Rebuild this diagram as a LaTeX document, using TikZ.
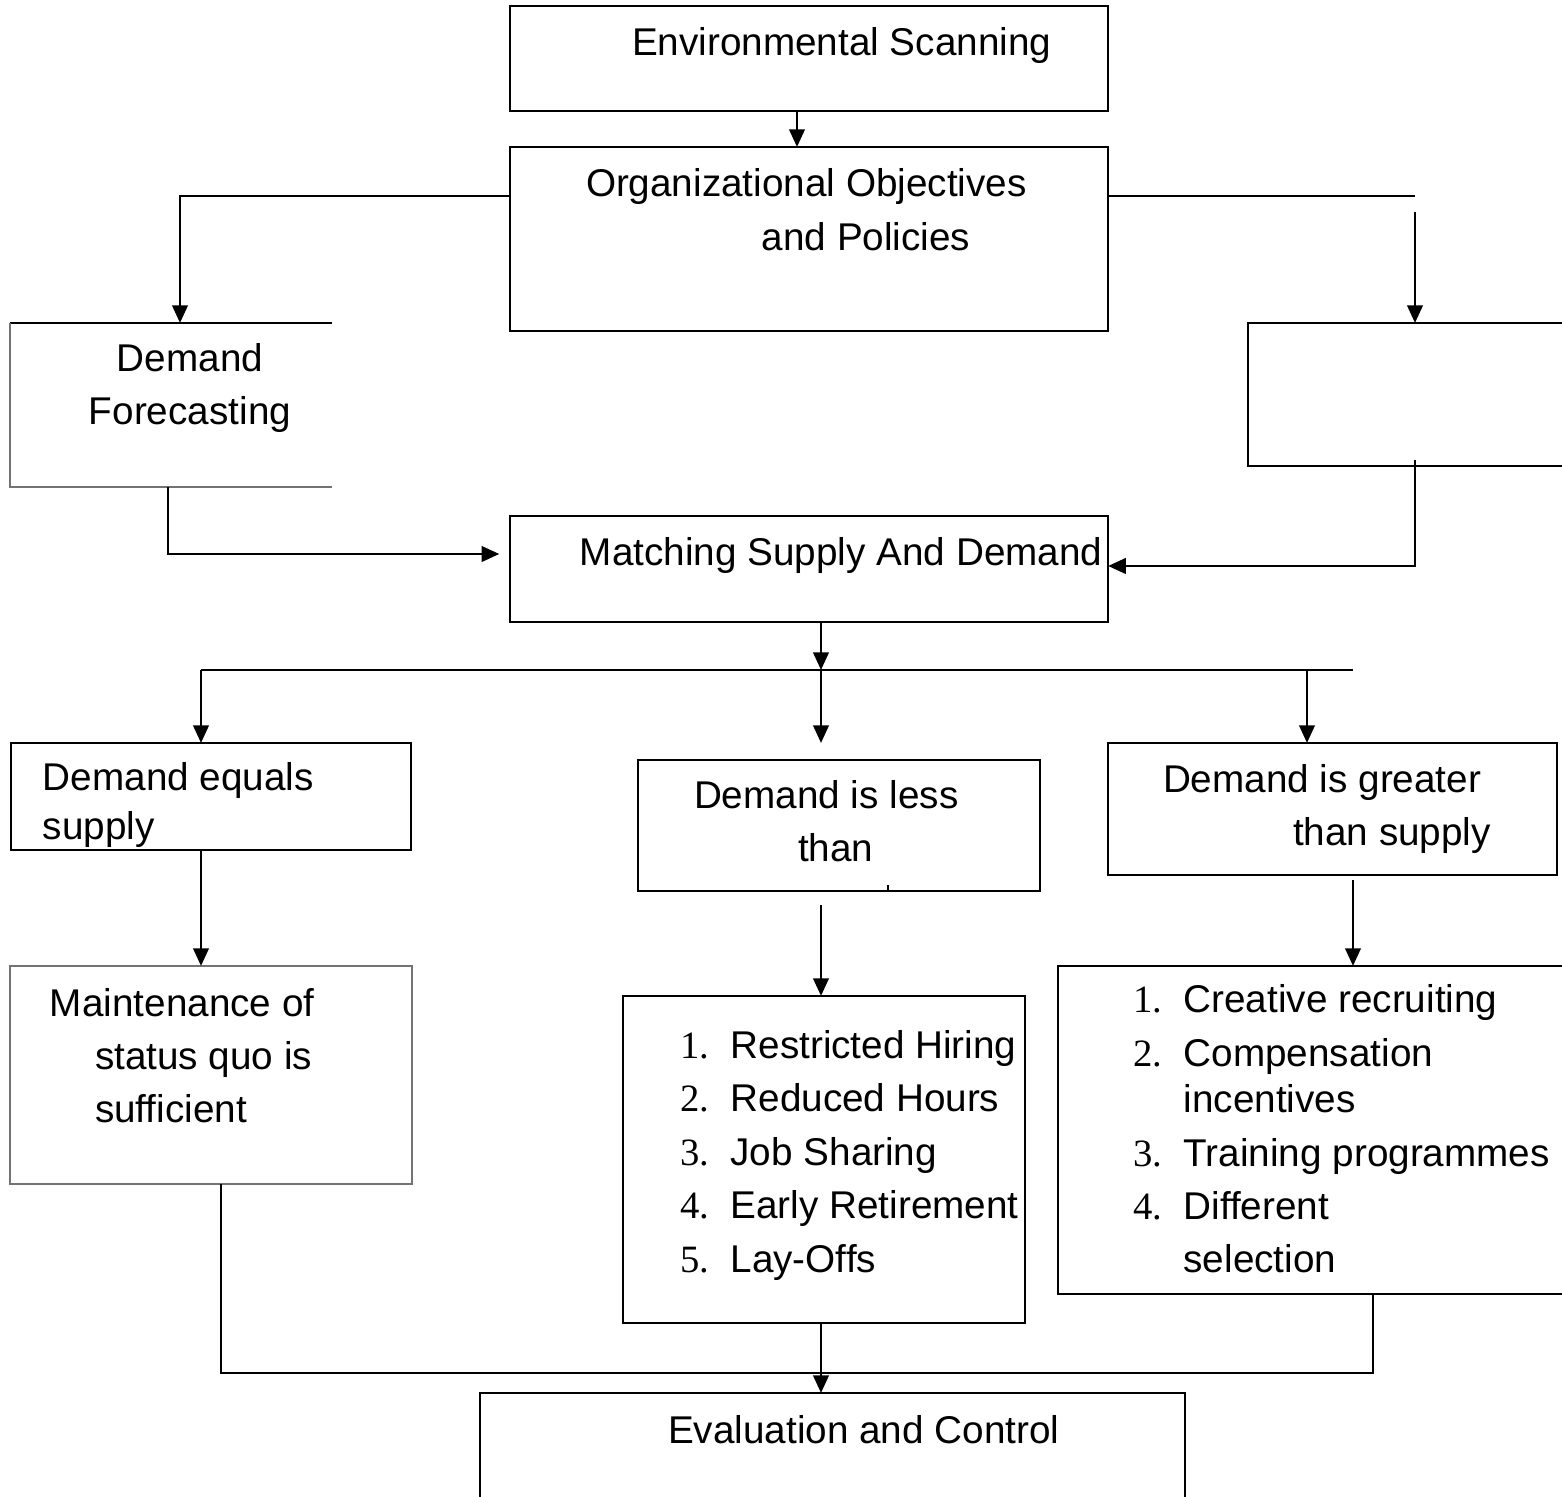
\documentclass[tikz,border=0pt]{standalone}
\usepackage{fontspec}
\setmainfont{Liberation Sans}
\newfontfamily\numfont{Liberation Serif}
\usetikzlibrary{positioning,arrows.meta,calc}
\newcommand{\itemno}[1]{\makebox[14.4pt][l]{\numfont #1}}

\begin{document}
\begin{tikzpicture}[x=0.01cm, y=-0.01cm,
      every node/.style={font=\fontsize{11}{15.2}\selectfont, inner sep=0pt, outer sep=0pt},
      box/.style={draw, line width=0.7pt},
      thinbox/.style={draw=black!55, line width=0.4pt},
      lbl/.style={align=left, anchor=base west},
      ctr/.style={align=center, anchor=base},
      line/.style={line width=0.7pt},
      arr/.style={-{Triangle[length=5pt,width=4.4pt]}, line width=0.7pt}
  ]
    \useasboundingbox (0,0) rectangle (1562,1497);
    % boxes
    \node[box, minimum width=5.98cm, minimum height=1.05cm] (env) at (809,58.5) {};
    \node[box, minimum width=5.98cm, minimum height=1.84cm] (org) at (809,239) {};
    \node[minimum width=3.22cm, minimum height=1.64cm] (fc) at (171,405) {};
    \node[box, minimum width=3.27cm, minimum height=1.43cm] (rb) at (1411.5,394.5) {};
    \node[box, minimum width=5.98cm, minimum height=1.06cm] (match) at (809,569) {};
    \node[box, minimum width=4.00cm, minimum height=1.07cm] (eq) at (211,796.5) {};
    \node[box, minimum width=4.02cm, minimum height=1.31cm] (less) at (839,825.5) {};
    \node[box, minimum width=4.49cm, minimum height=1.32cm] (gt) at (1332.5,809) {};
    \node[thinbox, minimum width=4.02cm, minimum height=2.18cm] (mq) at (211,1075) {};
    \node[box, minimum width=4.02cm, minimum height=3.27cm] (cut) at (824,1159.5) {};
    \node[box, minimum width=5.17cm, minimum height=3.28cm] (fix) at (1316.5,1130) {};
    \node[box, minimum width=7.05cm, minimum height=1.17cm] (eval) at (832.5,1451.5) {};
    \draw[line width=0.5pt] (fc.north east) -- (fc.north west);
    \draw[thinbox] (fc.north west) -- (fc.south west) -- (fc.south east);
    \draw[line] ($(less.south)+(49,0)$) -- ++(0,-6);
    % texts (multi-line ones sit on their last baseline)
    \node[lbl] (envt) at (632,56) {Environmental Scanning};
    \node[lbl] (orgt) at (586,251) {Organizational Objectives\\[0.3pt]\hspace{50pt}and Policies};
    \node[ctr] (fct) at (190,425) {Demand\\Forecasting};
    \node[lbl] (matcht) at (580,566) {Matching Supply And Demand};
    \node[lbl] (eqt) at (43,840) {Demand equals\\[-1pt]supply};
    \node[lbl] (lesst) at (694,862) {Demand is less\\\hspace{29.6pt}than};
    \node[lbl] (gtt) at (1163,846) {Demand is greater\\\hspace{37pt}than supply};
    \node[lbl] (mqt) at (50,1123) {Maintenance of\\\hspace{12.8pt}status quo is\\\hspace{12.8pt}sufficient};
    \node[lbl] (cutt) at (680,1272) {\itemno{1.}Restricted Hiring\\
      \itemno{2.}Reduced Hours\\\itemno{3.}Job Sharing\\
      \itemno{4.}Early Retirement\\\itemno{5.}Lay-Offs};
    \node[lbl] (fixt) at (1133,1273) {\itemno{1.}Creative recruiting\\
      \itemno{2.}Compensation\\[-2pt]\hspace{14.4pt}incentives\\
      \itemno{3.}Training programmes\\\itemno{4.}Different\\
      \hspace{14.4pt}selection};
    \node[lbl] (evalt) at (668,1444) {Evaluation and Control};
    % connectors
    \draw[arr] ($(env.south)+(-12,0)$) -- ($(org.north)+(-12,0)$);
    \coordinate (lt) at (180,196);
    \draw[arr] (org.west |- lt) -- (lt) -- (fc.north -| lt);
    \coordinate (rt) at (1415,196);
    \draw[line] (org.east |- rt) -- (rt);
    \coordinate (rtd) at (1415,212);
    \draw[arr] (rtd) -- (rb.north -| rtd);
    \coordinate (fb) at (168,554);
    \draw[arr, shorten >=3pt] (fc.south -| fb) -- (fb) -- (match.west |- fb);
    \coordinate (rbb) at (1415,566);
    \draw[arr] ($(rb.south -| rbb)+(0,-6)$) -- (rbb) -- (match.east |- rbb);
    \coordinate (sp) at (821,670);
    \coordinate (spl) at (201,670);
    \coordinate (spr) at (1353,670);
    \coordinate (gx) at (1307,670);
    \draw[arr] (match.south -| sp) -- (sp);
    \draw[line] (spl) -- (spr);
    \draw[arr] (spl) -- (eq.north -| spl);
    \draw[arr] (sp) -- ($(less.north -| sp)+(0,-17)$);
    \draw[arr] (gx) -- (gt.north -| gx);
    \draw[arr] (eq.south -| spl) -- (mq.north -| spl);
    \draw[arr] ($(less.south -| sp)+(0,14)$) -- (cut.north -| sp);
    \draw[arr] ($(gt.south -| spr)+(0,5)$) -- (fix.north -| spr);
    \coordinate (bl) at (221,1373);
    \coordinate (br) at (1373,1373);
    \draw[line] (mq.south -| bl) -- (bl) -- (br) -- (fix.south -| br);
    \draw[arr] (cut.south -| sp) -- (eval.north -| sp);
  \end{tikzpicture}
\end{document}
